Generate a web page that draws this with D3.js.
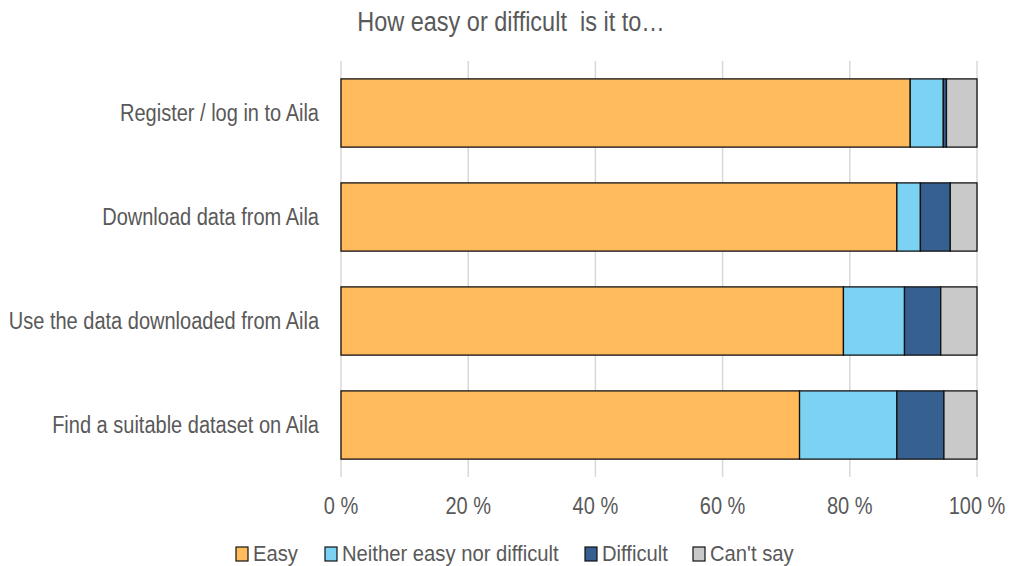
<!DOCTYPE html>
<html><head><meta charset="utf-8">
<script src="https://cdn.jsdelivr.net/npm/d3@7"></script>
<style>body{margin:0;background:#fff;} text{font-family:"Liberation Sans",Arial,sans-serif;fill:#595959;white-space:pre;}</style>
</head><body>
<svg id="c" width="1014" height="566"></svg>
<script>
const categories = ["Register / log in to Aila","Download data from Aila","Use the data downloaded from Aila","Find a suitable dataset on Aila"];
const seriesNames = ["Easy","Neither easy nor difficult","Difficult","Can't say"];
const easy = [89.5, 87.4, 79.0, 72.1];
const neither = [5.2, 3.7, 9.6, 15.3];
const difficult = [0.5, 4.7, 5.7, 7.4];
const cantSay = [4.8, 4.2, 5.7, 5.2];
const tickValues = [0,20,40,60,80,100];
const colors = ["#FFBB5C","#7CD2F2","#35608F","#C9C9C9"];
const title = "How easy or difficult  is it to…";

const svg = d3.select("#c");
const x = d3.scaleLinear().domain([0,100]).range([341,977]);
const y = d3.scaleBand().domain(categories).range([61,477]).paddingInner(0.344).paddingOuter(0.172);

const stackData = categories.map((c,i)=>({cat:c, "Easy":easy[i], "Neither easy nor difficult":neither[i], "Difficult":difficult[i], "Can't say":cantSay[i]}));
const stack = d3.stack().keys(seriesNames)(stackData);

function txt(parent, px, py, s, size, anchor, sx, baseline){
  const g = parent.append("g").attr("transform",`translate(${px},${py}) scale(${sx},1)`);
  g.append("text").attr("x",0).attr("y",0).attr("dy",baseline ? null : "0.35em").attr("text-anchor",anchor).style("font-size",size+"px").text(s);
  return g;
}

// gridlines
svg.append("g").selectAll("line").data(tickValues).join("line")
  .attr("x1",d=>x(d)).attr("x2",d=>x(d)).attr("y1",61).attr("y2",477)
  .attr("stroke","#d9d9d9").attr("stroke-width",1.5);

svg.append("g").selectAll("g").data(stack).join("g")
  .attr("fill",(d,i)=>colors[i])
  .selectAll("rect").data(d=>d).join("rect")
  .attr("x",d=>x(d[0])).attr("width",d=>x(d[1])-x(d[0]))
  .attr("y",d=>y(d.data.cat)).attr("height",y.bandwidth())
  .attr("stroke","#111").attr("stroke-width",1.3);

const lab = svg.append("g");
categories.forEach(c=>txt(lab, 319, y(c)+y.bandwidth()/2, c, 23, "end", 0.87));

const tk = svg.append("g");
tickValues.forEach(v=>txt(tk, x(v), 506, v+" %", 23, "middle", 0.87));

txt(svg, 511, 22, title, 27, "middle", 0.87);

// legend
const legX = [236,325,585,693];
const leg = svg.append("g");
seriesNames.forEach((s,i)=>{
  leg.append("rect").attr("x",legX[i]).attr("y",547).attr("width",12).attr("height",14)
    .attr("fill",colors[i]).attr("stroke","#111").attr("stroke-width",1.2);
  txt(leg, legX[i]+17, 561, s, 22, "start", 0.92, true);
});
</script>
</body></html>
